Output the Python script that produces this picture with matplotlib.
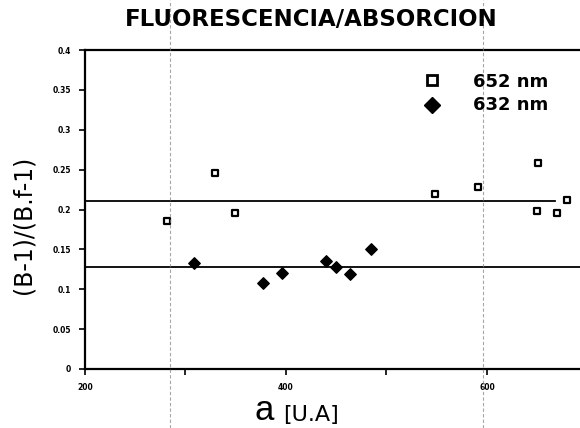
import matplotlib
matplotlib.use("Agg")
import matplotlib.pyplot as plt
from matplotlib.lines import Line2D

# 652 nm series (open squares)
x_652 = [282, 329, 349, 548, 591, 650, 651, 670, 680]
y_652 = [0.186, 0.246, 0.196, 0.219, 0.228, 0.198, 0.258, 0.196, 0.2125]

# 632 nm series (filled diamonds)
x_632 = [308, 377, 396, 440, 450, 464, 485]
y_632 = [0.1325, 0.1075, 0.121, 0.136, 0.1275, 0.119, 0.150]

# mean levels
mean_652 = 0.211
mean_632 = 0.1275

y_ticks = [0, 0.05, 0.1, 0.15, 0.2, 0.25, 0.3, 0.35, 0.4]
y_tick_labels = ["0", "0.05", "0.1", "0.15", "0.2", "0.25", "0.3", "0.35", "0.4"]
x_ticks = [200, 400, 600]

plt.rcParams['font.family'] = ['DejaVu Sans']

W, H = 580, 428
fig = plt.figure(figsize=(5.8, 4.28), dpi=100)
ax = fig.add_axes([85 / W, 1 - 369 / H, 495 / W, (369 - 50) / H])

ax.scatter(x_652, y_652, marker='s', s=22, facecolors='white',
           edgecolors='black', linewidths=1.6, zorder=3, clip_on=False)
ax.scatter(x_632, y_632, marker='D', s=34, color='black', zorder=3)

ax.plot([200, 668], [mean_652, mean_652], color='black', lw=1.3)
ax.axhline(mean_632, color='black', lw=1.3)

ax.set_xlim(200, 200 + 495 / 1.005)
ax.set_ylim(0, 0.4)
ax.set_yticks(y_ticks)
ax.set_yticklabels(y_tick_labels, fontsize=5.5, fontweight='bold')
ax.set_xticks(x_ticks)
ax.set_xticklabels([str(t) for t in x_ticks], fontsize=5.5, fontweight='bold')
ax.set_xticks([300, 500], minor=True)
ax.tick_params(axis='both', which='both', direction='out', length=4, width=1.2)
ax.tick_params(axis='y', pad=6)
ax.tick_params(axis='x', pad=6)

for side in ['left', 'bottom', 'top']:
    ax.spines[side].set_linewidth(1.6)
ax.spines['right'].set_visible(False)

fig.text(311 / W, 1 - 20 / H, "FLUORESCENCIA/ABSORCION", ha='center', va='center',
         fontsize=16.5, fontweight='bold')
fig.text(23 / W, 1 - 225 / H, "(B-1)/(B.f-1)", rotation=90, ha='center',
         va='center', fontsize=17)
fig.text(264 / W, 1 - 427 / H, "a", ha='center', va='bottom', fontsize=25,
         family='Liberation Sans')
fig.text(283 / W, 1 - 421 / H, "[U.A]", ha='left', va='baseline', fontsize=16)

# legend
fig.add_artist(Line2D([432 / W], [1 - 80 / H], marker='s', markersize=6.5,
                      markerfacecolor='white', markeredgecolor='black',
                      markeredgewidth=2, ls='none'))
fig.add_artist(Line2D([432 / W], [1 - 105 / H], marker='D', markersize=8,
                      color='black', ls='none'))
fig.text(473 / W, 1 - 82 / H, "652 nm", ha='left', va='center', fontsize=13,
         fontweight='bold')
fig.text(473 / W, 1 - 105 / H, "632 nm", ha='left', va='center', fontsize=13,
         fontweight='bold')

# fold marks from the scanned page
for xf in [170, 483]:
    fig.add_artist(Line2D([xf / W, xf / W], [0, 1], color='gray', lw=0.8,
                          ls=(0, (3, 2)), alpha=0.7))

fig.savefig("out.png", dpi=100)
